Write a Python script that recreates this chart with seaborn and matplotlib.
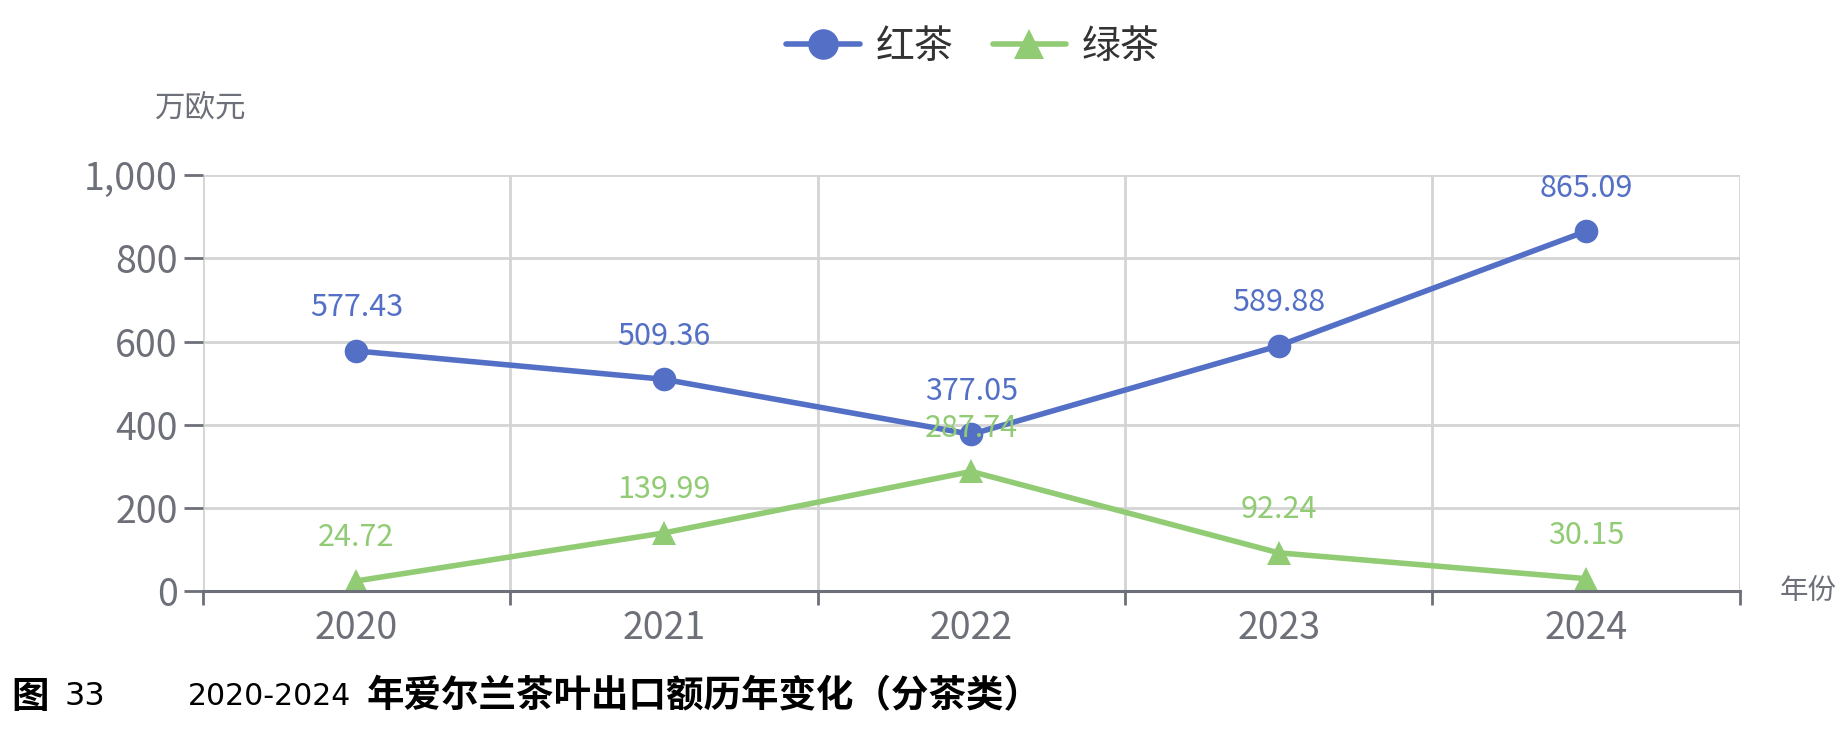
import numpy as np
import pandas as pd
import matplotlib
matplotlib.use("Agg")
import matplotlib.pyplot as plt
import seaborn as sns

# ---- data ----
years = ["2020", "2021", "2022", "2023", "2024"]
black_tea = [577.43, 509.36, 377.05, 589.88, 865.09]
green_tea = [24.72, 139.99, 287.74, 92.24, 30.15]
series_names = ["红茶", "绿茶"]
y_ticks = [0, 200, 400, 600, 800, 1000]
y_tick_labels = ["0", "200", "400", "600", "800", "1,000"]

BLUE = "#5470c6"
GREEN = "#91cc75"
AXIS_GREY = "#6e7079"
GRID_GREY = "#d4d4d4"

sns.set_theme(style="white")
plt.rcParams["font.family"] = ["Noto Sans CJK SC", "DejaVu Sans"]

df = pd.DataFrame({
    "pos": list(range(len(years))) * 2,
    "value": black_tea + green_tea,
    "series": [series_names[0]] * len(years) + [series_names[1]] * len(years),
})

fig = plt.figure(figsize=(18.43, 7.39), dpi=100)
ax = fig.add_axes([0.110, 0.200, 0.834, 0.563])

sns.lineplot(ax=ax, data=df, x="pos", y="value", hue="series", style="series",
             palette={series_names[0]: BLUE, series_names[1]: GREEN},
             markers={series_names[0]: "o", series_names[1]: "^"},
             dashes=False, linewidth=4, markersize=17, markeredgewidth=0,
             zorder=3)

# value labels
for vals, col in [(black_tea, BLUE), (green_tea, GREEN)]:
    for i, v in enumerate(vals):
        ax.annotate("{:.2f}".format(v), (i, v), xytext=(0, 31),
                    textcoords="offset points", ha="center", va="center",
                    fontsize=22, color=col, zorder=4)

ax.set_xlim(-0.5, len(years) - 0.5)
ax.set_ylim(0, 1000)
ax.set_xlabel(None)
ax.set_ylabel(None)

ax.set_xticks(range(len(years)))
ax.set_xticklabels(years)
ax.set_xticks(np.arange(-0.5, len(years), 1.0), minor=True)
ax.set_yticks(y_ticks)
ax.set_yticklabels(y_tick_labels)

ax.grid(False)
ax.grid(True, axis="x", which="minor", color=GRID_GREY, linewidth=2, zorder=0)
ax.grid(True, axis="y", which="major", color=GRID_GREY, linewidth=2, zorder=0)

for side in ["top", "right", "left"]:
    ax.spines[side].set_visible(False)
ax.spines["bottom"].set_color(AXIS_GREY)
ax.spines["bottom"].set_linewidth(2.2)
ax.spines["bottom"].set_zorder(5)

ax.tick_params(axis="x", which="major", length=0, pad=13,
               labelsize=27, labelcolor=AXIS_GREY)
ax.tick_params(axis="x", which="minor", length=10, width=2, color=AXIS_GREY,
               direction="out", bottom=True)
ax.tick_params(axis="y", which="major", length=14, width=2, color=AXIS_GREY,
               direction="out", left=True, pad=4, labelsize=27,
               labelcolor=AXIS_GREY)

# axis names
fig.text(0.109, 0.852, "万欧元", ha="center", va="center",
         fontsize=22, color=AXIS_GREY)
fig.text(0.9655, 0.200, "年份", ha="left", va="center",
         fontsize=20.5, color=AXIS_GREY)

# legend on top
handles, labels = ax.get_legend_handles_labels()
ax.legend_.remove()
for h in handles:
    h.set_markersize(22)
fig.legend(handles, labels, loc="center", bbox_to_anchor=(0.528, 0.937),
           ncol=2, frameon=False, fontsize=28, handlelength=1.9,
           columnspacing=1.0, handletextpad=0.4, labelcolor="#333333")

# caption
fig.text(0.006, 0.058, "图", ha="left", va="center", fontsize=27,
         fontweight="bold", color="black")
fig.text(0.035, 0.058, "33", ha="left", va="center", fontsize=23,
         color="black", family=["DejaVu Sans"])
fig.text(0.102, 0.058, "2020-2024", ha="left", va="center", fontsize=21.5,
         color="black", family=["DejaVu Sans"])
fig.text(0.199, 0.058, "年爱尔兰茶叶出口额历年变化（分茶类）", ha="left",
         va="center", fontsize=27, fontweight="bold", color="black")

fig.savefig("out.png", dpi=100)
